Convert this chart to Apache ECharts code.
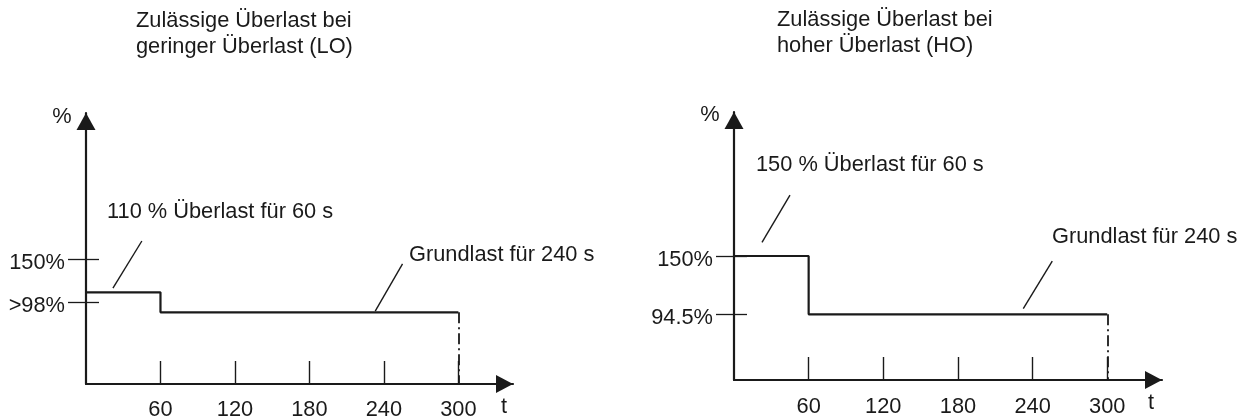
<!DOCTYPE html>
<html>
<head>
<meta charset="utf-8">
<script src="https://cdn.jsdelivr.net/npm/echarts@6/dist/echarts.min.js"></script>
<style>
  html, body { margin: 0; padding: 0; background: #fff; }
  #chart { width: 1243px; height: 416px; }
</style>
</head>
<body>
<div id="chart"></div>
<script>
// ---- data ----
const titles = [
  ['Zulässige Überlast bei', 'geringer Überlast (LO)'],
  ['Zulässige Überlast bei', 'hoher Überlast (HO)']
];
const timeSteps = [0, 60, 300];                 // t (s)
const loLoad = [110, 86, 86];                   // % (LO)
const hoLoad = [150, 94.5, 94.5];               // % (HO)
const xTickValues = [60, 120, 180, 240, 300];
const loYTickValues = [98, 150];
const loYTickLabels = ['>98%', '150%'];
const hoYTickValues = [94.5, 150];
const hoYTickLabels = ['94.5%', '150%'];
const loNotes = ['110 % Überlast für 60 s', 'Grundlast für 240 s'];
const hoNotes = ['150 % Überlast für 60 s', 'Grundlast für 240 s'];
// leader lines in data units [from, to]
const loLeaders = [[[45, 171.5], [21.7, 115]], [[255, 144], [233, 87.5]]];
const hoLeaders = [[[45, 208], [22.5, 163]], [[255.8, 145], [232.5, 100]]];

const INK = '#1a1a1a';
const FONT = '"Liberation Sans", Arial, sans-serif';
const FS = 21.8;

const grids = [
  { left: 86, right: 730, top: 113, bottom: 32, yMin: 0, yMax: 325 },
  { left: 734, right: 81, top: 112, bottom: 36, yMin: 32, yMax: 287 }
];
const X_MAX = 344;

function xAxisFor(i) {
  return {
    type: 'value', gridIndex: i, min: 0, max: X_MAX,
    axisLine: { show: true, onZero: false, lineStyle: { color: INK, width: 2.2 },
      symbol: ['none', 'triangle'], symbolSize: [18, 17], symbolOffset: [0, -8.5] },
    axisTick: { show: true, inside: true, length: 23, customValues: xTickValues,
      lineStyle: { color: INK, width: 1.4 } },
    axisLabel: { show: true, customValues: xTickValues, margin: i === 0 ? 15 : 16,
      color: INK, fontSize: FS, fontFamily: FONT },
    splitLine: { show: false }
  };
}
function yAxesFor(i, tickVals, tickLabels) {
  const g = grids[i];
  const gridWidth = 1243 - g.left - g.right;
  return [{
    type: 'value', gridIndex: i, position: 'left', min: g.yMin, max: g.yMax,
    axisLine: { show: true, onZero: false, lineStyle: { color: INK, width: 2.2 },
      symbol: ['none', 'triangle'], symbolSize: [19, 17], symbolOffset: [0, -8.5] },
    axisTick: { show: true, inside: false, length: 18, customValues: tickVals,
      lineStyle: { color: INK, width: 1.3 } },
    axisLabel: { show: true, customValues: tickVals, margin: 21, color: INK,
      fontSize: FS, fontFamily: FONT,
      formatter: v => '{a|' + tickLabels[tickVals.indexOf(v)] + '}',
      rich: { a: { fontSize: FS, fontFamily: FONT, color: INK, padding: [8, 0, 0, 0] } } },
    splitLine: { show: false }
  }, {
    type: 'value', gridIndex: i, position: 'right', offset: -gridWidth,
    min: g.yMin, max: g.yMax,
    axisLine: { show: false, onZero: false },
    axisTick: { show: true, inside: false, length: 13, customValues: tickVals,
      lineStyle: { color: INK, width: 1.3 } },
    axisLabel: { show: false },
    splitLine: { show: false }
  }];
}

function stepSeries(i, loads, leaders, yMin) {
  const pts = timeSteps.map((t, k) => [t, loads[k]]);
  const last = pts[pts.length - 1];
  return {
    type: 'line', xAxisIndex: i, yAxisIndex: i * 2, step: 'end',
    data: pts, symbol: 'none', silent: true, animation: false,
    lineStyle: { color: INK, width: 2.2 },
    markLine: {
      silent: true, symbol: 'none', animation: false, label: { show: false },
      data: [
        [{ coord: [last[0], last[1]], lineStyle: { type: [11, 4, 2, 4], width: 1.8, color: INK } },
         { coord: [last[0], yMin] }]
      ].concat(leaders.map(l => [
        { coord: l[0], lineStyle: { type: 'solid', width: 1.4, color: INK } },
        { coord: l[1] }
      ]))
    }
  };
}

function txt(x, y, s, align) {
  return { type: 'text', x: x, y: y, silent: true,
    style: { text: s, fill: INK, font: FS + 'px ' + FONT,
      textAlign: align || 'left', textVerticalAlign: 'middle' } };
}

const chart = echarts.init(document.getElementById('chart'), null, { renderer: 'canvas' });
chart.setOption({
  backgroundColor: '#fff',
  animation: false,
  grid: grids.map(g => ({ left: g.left, right: g.right, top: g.top, bottom: g.bottom,
    containLabel: false, outerBoundsMode: 'none' })),
  xAxis: [xAxisFor(0), xAxisFor(1)],
  yAxis: yAxesFor(0, loYTickValues, loYTickLabels).concat(yAxesFor(1, hoYTickValues, hoYTickLabels)),
  series: [
    stepSeries(0, loLoad, loLeaders, grids[0].yMin),
    stepSeries(1, hoLoad, hoLeaders, grids[1].yMin)
  ],
  graphic: [
    txt(136, 21, titles[0][0]), txt(136, 47, titles[0][1]),
    txt(777, 20, titles[1][0]), txt(777, 46, titles[1][1]),
    txt(62, 117, '%', 'center'), txt(710, 115, '%', 'center'),
    txt(504, 407, 't', 'center'), txt(1151, 403, 't', 'center'),
    txt(107, 212, loNotes[0]), txt(409, 255, loNotes[1]),
    txt(756, 165, hoNotes[0]), txt(1052, 237, hoNotes[1])
  ]
});
</script>
</body>
</html>
